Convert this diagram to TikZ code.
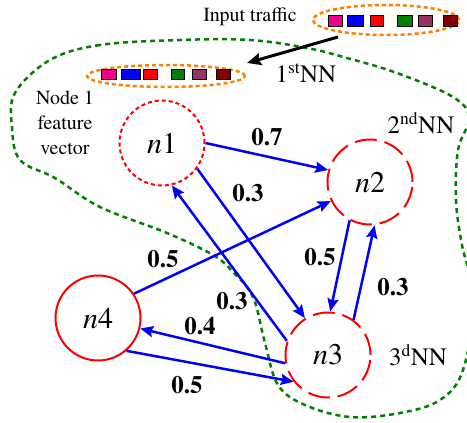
\documentclass[tikz,border=0pt]{standalone}
\usepackage{fontspec}
\setmainfont{texgyretermes-regular.otf}[BoldFont=texgyretermes-bold.otf,ItalicFont=texgyretermes-italic.otf,BoldItalicFont=texgyretermes-bolditalic.otf]
\usetikzlibrary{shapes.geometric,arrows.meta}
\definecolor{ograng}{RGB}{255,128,0}
\definecolor{dgreen}{RGB}{0,128,0}
\definecolor{nblue}{RGB}{0,0,255}
\definecolor{nred}{RGB}{255,0,0}
\definecolor{sqpurple}{RGB}{153,51,102}
\definecolor{sqdark}{RGB}{128,0,0}
\tikzset{
  nodecirc/.style={circle,minimum size=85pt,inner sep=0pt,draw=nred,line width=2pt,font=\fontsize{30}{34}\selectfont},
  dotcirc/.style={nodecirc,dash pattern=on 4pt off 3pt},
  longdash/.style={nodecirc,dash pattern=on 22pt off 8pt},
  edge/.style={draw=nblue,line width=2.5pt,-{Stealth[length=13pt,width=11pt,inset=2pt]}},
  wlab/.style={font=\fontsize{25}{30}\selectfont\bfseries,inner sep=0pt},
  nnlab/.style={font=\fontsize{25}{30}\selectfont,inner sep=0pt},
  traffic/.style={ellipse,draw=ograng,line width=2.5pt,dash pattern=on 4pt off 3pt,inner sep=0pt},
  sq/.style={draw=black,line width=0.6pt}
}
\begin{document}
\begin{tikzpicture}[x=1pt,y=-1pt]
\useasboundingbox (0,0) rectangle (467,423);
% green boundary
\begin{scope}
\clip (0,0) rectangle (467,423);
\draw[dgreen,line width=2.5pt,dash pattern=on 5pt off 4pt]
  plot[smooth cycle,tension=0.6] coordinates {(180,40) (100,45) (50,60) (15,93) (12,127) (20,160) (55,178) (100,207) (167,233) (213,255) (233,272) (253,297) (265,343) (278,385) (305,405) (350,417) (400,413) (440,400) (463,370) (474,300) (462,245) (456,200) (458,150) (469,118) (453,97) (397,73) (347,58) (307,48) (250,40)};
\end{scope}
% traffic ellipses
\node[traffic,minimum width=146pt,minimum height=30pt] (e1) at (386,20) {};
\node[traffic,minimum width=158pt,minimum height=22pt] (e2) at (166,76) {};
\filldraw[sq,fill=magenta] (328,15) rectangle (342,26);
\filldraw[sq,fill=blue] (347,15) rectangle (363,26);
\filldraw[sq,fill=red] (370,15) rectangle (383,26);
\filldraw[sq,fill=dgreen] (397,15) rectangle (412,26);
\filldraw[sq,fill=sqpurple] (418,15) rectangle (432,26);
\filldraw[sq,fill=sqdark] (443,15) rectangle (457,26);
\filldraw[sq,fill=magenta] (101,69) rectangle (116,79);
\filldraw[sq,fill=blue] (121,69) rectangle (140,79);
\filldraw[sq,fill=red] (143,69) rectangle (157,79);
\filldraw[sq,fill=dgreen] (171,69) rectangle (184,79);
\filldraw[sq,fill=sqpurple] (192,69) rectangle (206,79);
\filldraw[sq,fill=sqdark] (216,69) rectangle (230,79);
\coordinate (a1) at (338,37);
\coordinate (a2) at (247,63);
\draw[line width=3pt,-{Stealth[length=14pt,width=12pt,inset=2pt]}] (a1) -- (a2);
% texts
\node[font=\fontsize{20}{24}\selectfont,inner sep=0pt] (it) at (250,17) {Input traffic};
\node[nnlab] (nn1) at (306,73) {1\textsuperscript{st}NN};
\node[nnlab] (nn2) at (421,123) {2\textsuperscript{nd}NN};
\node[nnlab] (nn3) at (418,355) {3\textsuperscript{d}NN};
\node[align=center,font=\fontsize{20}{25}\selectfont,inner sep=0pt] (fv) at (65,123) {Node 1\\feature\\vector};
% nodes
\node[dotcirc] (n1) at (162,143) {\textit{n}1};
\node[longdash] (n2) at (370,182) {\textit{n}2};
\node[longdash] (n3) at (328,355) {\textit{n}3};
\node[nodecirc] (n4) at (98,318) {\textit{n}4};
% edges
\draw[edge] (n1.0) -- (n2.164);
\draw[edge] (n1.-36) -- (n3.122);
\draw[edge] (n3.161) -- (n1.-77);
\draw[edge] (n4.34) -- (n2.-154);
\draw[edge] (n2.-118) -- (n3.87);
\draw[edge] (n3.54) -- (n2.-84);
\draw[edge] (n3.191) -- (n4.-14);
\draw[edge] (n4.-49) -- (n3.-142);
% weights
\node[wlab] (w1) at (267,137) {0.7};
\node[wlab] (w2) at (248,193) {0.3};
\node[wlab] (w3) at (163,259) {0.5};
\node[wlab] (w4) at (320,257) {0.5};
\node[wlab] (w5) at (393,287) {0.3};
\node[wlab] (w6) at (232,301) {0.3};
\node[wlab] (w7) at (200,326) {0.4};
\node[wlab] (w8) at (187,385) {0.5};
\end{tikzpicture}
\end{document}
